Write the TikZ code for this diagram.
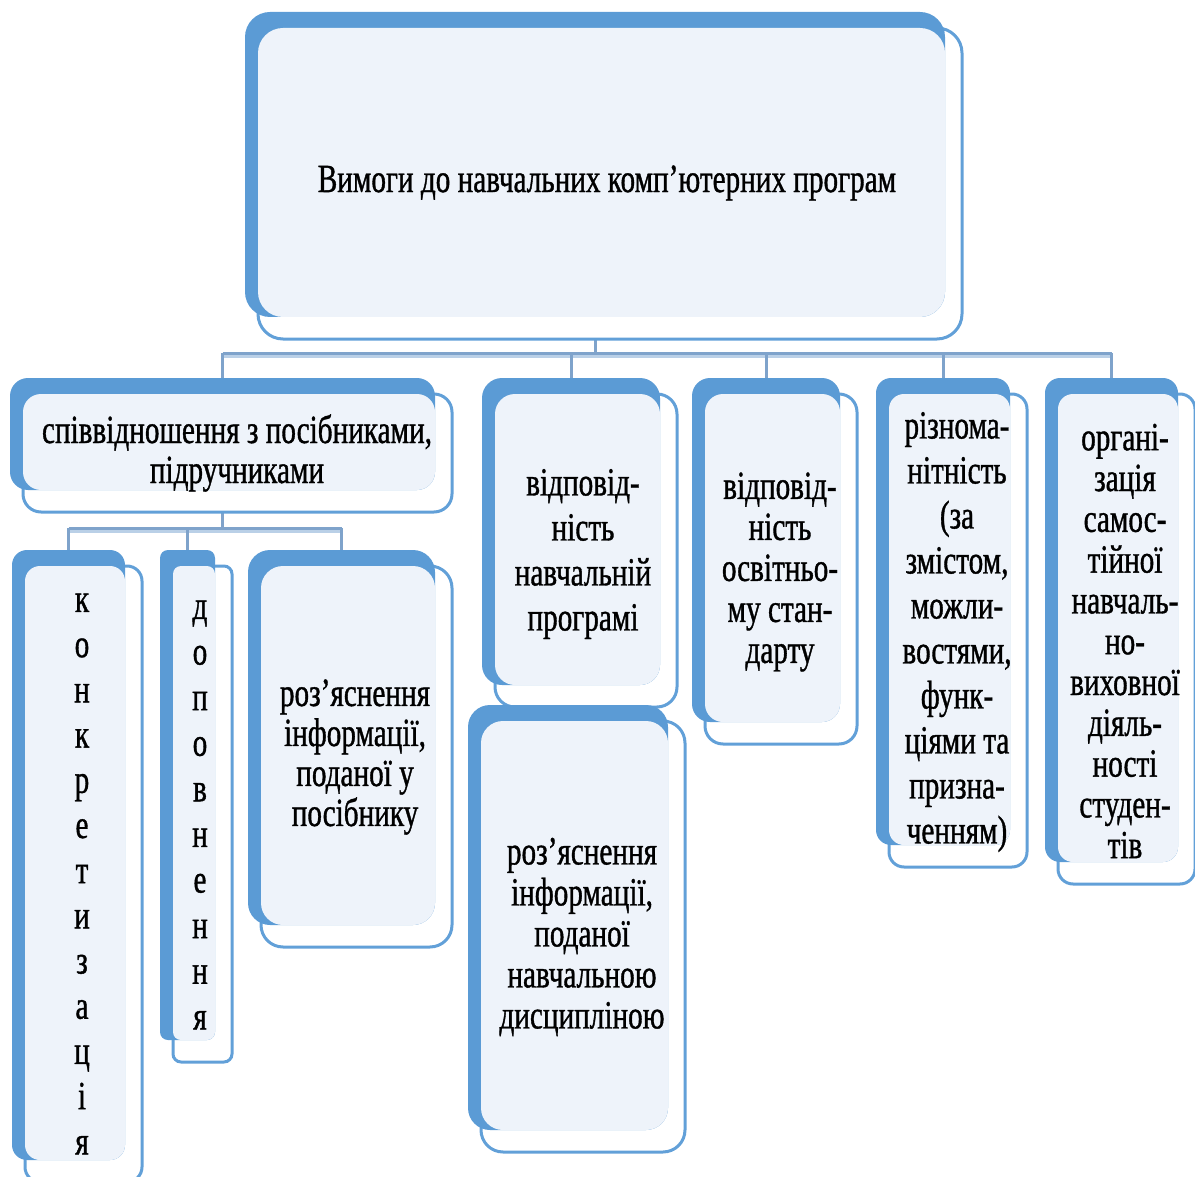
\documentclass[tikz,border=0pt]{standalone}
\usepackage{fontspec}
\setmainfont{Liberation Serif}[FakeStretch=0.73, FakeBold=0.9]
\usetikzlibrary{fit,backgrounds}

\definecolor{backblue}{HTML}{5B9BD5}
\definecolor{paleblue}{HTML}{EEF3FA}
\definecolor{edgeblue}{HTML}{62A0D8}
\definecolor{linkdark}{HTML}{7FA3CB}
\definecolor{linklight}{HTML}{BAD0E7}

\tikzset{
  backrect/.style={fill=backblue, inner sep=0pt, draw=none},
  framerect/.style={fill=white, draw=edgeblue, line width=3pt},
  panel/.style={fill=paleblue},
  boxtext/.style={align=center, inner sep=0pt, font=\fontsize{40}{#1}\selectfont},
  link/.style={draw=linkdark, line width=3pt},
  linkshade/.style={draw=linklight, line width=3pt},
}

% A requirement box: solid back plate, white outlined frame shifted
% down-right, and a pale panel where the two overlap.
% #1 name, #2-#5 plate corners, #6 corner radius
\newcommand\layered[6]{%
  \path[framerect, rounded corners=#6] (#2+13,#3+16) rectangle (#4+17,#5+22);
  \node[backrect, rounded corners=#6, fit={(#2,#3) (#4,#5)}] (#1) {};
  \path[panel, rounded corners=#6] (#2+13,#3+16) rectangle (#4,#5);
}

\begin{document}
\begin{tikzpicture}[x=1pt, y=-1pt]
\useasboundingbox (0,0) rectangle (1195,1177);

% boxes
\layered{top}{245}{12}{945}{317}{25}
\layered{rel}{10}{378}{435}{490}{18}
\layered{conc}{12}{550}{125}{1160}{15}
\layered{supp}{160}{550}{215}{1040}{8}
\layered{expl}{248}{550}{435}{925}{22}
\layered{prog}{482}{378}{660}{685}{20}
\layered{disc}{468}{705}{668}{1130}{22}
\layered{std}{692}{378}{840}{722}{18}
\layered{var}{876}{378}{1010}{845}{15}
\layered{org}{1045}{378}{1178}{862}{15}

% connectors
\begin{scope}[on background layer]
  \coordinate (busA) at (0,353);
  \coordinate (busB) at (0,528);
  \draw[link] (top.south) -- (top.south |- busA);
  \draw[linkshade] ([yshift=-3pt]rel.north |- busA) -- ([yshift=-3pt]org.north |- busA);
  \draw[link] (rel.north |- busA) -- (org.north |- busA);
  \foreach \n in {rel,prog,std,var,org}
    \draw[link] (\n.north |- busA) -- (\n.north);
  \draw[link] (rel.south) -- (rel.south |- busB);
  \draw[linkshade] ([yshift=-3pt]conc.north |- busB) -- ([yshift=-3pt]expl.north |- busB);
  \draw[link] (conc.north |- busB) -- (expl.north |- busB);
  \foreach \n in {conc,supp,expl}
    \draw[link] (\n.north |- busB) -- (\n.north);
  \draw[linkshade] (prog.south) -- (disc.north);
\end{scope}

% texts
\node[boxtext=44] (top-t) at (607,183) {Вимоги до навчальних комп’ютерних програм};
\node[boxtext=40] (rel-t) at (237,453) {співвідношення з посібниками,\\підручниками};
\node[boxtext=45.2] (conc-t) at (82,874) {к\\о\\н\\к\\р\\е\\т\\и\\з\\а\\ц\\і\\я};
\node[boxtext=45.6] (supp-t) at (200,815) {д\\о\\п\\о\\в\\н\\е\\н\\н\\я};
\node[boxtext=40] (expl-t) at (355,757) {роз’яснення\\інформації,\\поданої у\\посібнику};
\node[boxtext=45] (prog-t) at (583,554) {відповід-\\ність\\навчальній\\програмі};
\node[boxtext=41] (disc-t) at (582,937) {роз’яснення\\інформації,\\поданої\\навчальною\\дисципліною};
\node[boxtext=41] (std-t) at (780,572) {відповід-\\ність\\освітньо-\\му стан-\\дарту};
\node[boxtext=45] (var-t) at (957,632) {різнома-\\нітність\\(за\\змістом,\\можли-\\востями,\\функ-\\ціями та\\призна-\\ченням)};
\node[boxtext=40.8] (org-t) at (1125,641) {органі-\\зація\\самос-\\тійної\\навчаль-\\но-\\виховної\\діяль-\\ності\\студен-\\тів};
\end{tikzpicture}
\end{document}
